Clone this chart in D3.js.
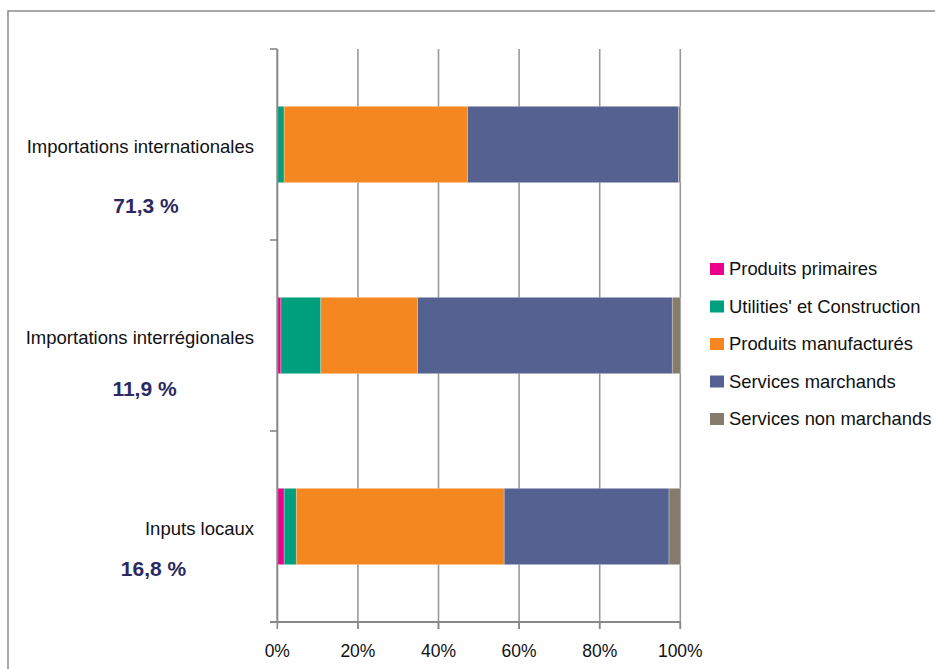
<!DOCTYPE html>
<html>
<head>
  <meta charset="utf-8">
  <title>Structure des inputs</title>
  <style>
  body { margin: 0; background: #fff; }
  svg { font-family: "Liberation Sans", Arial, sans-serif; }
  .grid line { stroke: #999; stroke-width: 1.6px; }
  .cat { font-size: 18.5px; fill: #111; text-anchor: end; }
  .pct { font-size: 21px; font-weight: bold; fill: #2b2962; text-anchor: middle; }
  .legend text { font-size: 18.4px; fill: #111; }
  .tick-label { font-size: 17.5px; fill: #111; text-anchor: middle; }
  </style>
</head>
<body>
  <svg width="935" height="669"></svg>
  <script src="https://d3js.org/d3.v7.min.js"></script>
  <script>
  // données
  var categories = ["Importations internationales", "Importations interrégionales", "Inputs locaux"];
  var shares = ["71,3 %", "11,9 %", "16,8 %"];
  var products = ["Produits primaires", "Utilities' et Construction", "Produits manufacturés",
                  "Services marchands", "Services non marchands"];
  var colors = ["#ec008c", "#00a07e", "#f58720", "#556291", "#857c6d"];
  var intl = [0, 1.7, 45.5, 52.4, 0.4];
  var interreg = [0.9, 9.9, 24.0, 63.2, 2.0];
  var locaux = [1.7, 3.0, 51.6, 40.9, 2.8];
  var xTicks = [0, 20, 40, 60, 80, 100];

  var series = [intl, interreg, locaux];
  var rows = categories.map(function(c, i) {
    var r = { cat: c };
    products.forEach(function(p, j) { r[p] = series[i][j]; });
    return r;
  });

  var svg = d3.select("svg");

  // cadre
  svg.append("rect")
    .attr("x", 8).attr("y", 11).attr("width", 1000).attr("height", 1000)
    .attr("fill", "none").attr("stroke", "#8c8c8c").attr("stroke-width", 1.5);

  var x = d3.scaleLinear().domain([0, 100]).range([277.3, 680.3]);
  var y = d3.scaleBand().domain(categories).range([49, 622])
    .paddingInner(0.6).paddingOuter(0.3);

  // grille verticale
  svg.append("g").attr("class", "grid")
    .selectAll("line").data(xTicks.slice(1)).enter().append("line")
    .attr("x1", function(d) { return x(d); }).attr("x2", function(d) { return x(d); })
    .attr("y1", 49).attr("y2", 629);

  // axe horizontal
  svg.append("line").attr("x1", 270).attr("x2", x(100)).attr("y1", 622).attr("y2", 622)
    .attr("stroke", "#888").attr("stroke-width", 2);
  svg.append("g").selectAll("line").data(xTicks).enter().append("line")
    .attr("x1", function(d) { return x(d); }).attr("x2", function(d) { return x(d); })
    .attr("y1", 622).attr("y2", 629).attr("stroke", "#888").attr("stroke-width", 1.6);
  svg.append("g").selectAll("text").data(xTicks).enter().append("text")
    .attr("class", "tick-label")
    .attr("x", function(d) { return x(d); }).attr("y", 657)
    .text(function(d) { return d + "%"; });

  // barres empilées
  var stack = d3.stack().keys(products)(rows);
  svg.append("g").selectAll("g").data(stack).enter().append("g")
    .attr("fill", function(d, i) { return colors[i]; })
    .selectAll("rect").data(function(d) { return d; }).enter().append("rect")
    .attr("x", function(d) { return x(d[0]); })
    .attr("width", function(d) { return x(d[1]) - x(d[0]); })
    .attr("y", function(d) { return y(d.data.cat); })
    .attr("height", y.bandwidth())
    .attr("stroke", "rgba(255,255,255,0.45)").attr("stroke-width", 0.6);

  // axe vertical
  svg.append("line").attr("x1", x(0)).attr("x2", x(0)).attr("y1", 49).attr("y2", 622)
    .attr("stroke", "#888").attr("stroke-width", 2);
  var catEdges = [49].concat(categories.map(function(c) { return y(c) - y.step() * 0.3 + y.step(); }));
  svg.append("g").selectAll("line").data(catEdges).enter().append("line")
    .attr("x1", 270).attr("x2", x(0))
    .attr("y1", function(d) { return d; }).attr("y2", function(d) { return d; })
    .attr("stroke", "#888").attr("stroke-width", 1.6);

  // libellés de catégories
  svg.append("g").selectAll("text").data(categories).enter().append("text")
    .attr("class", "cat")
    .attr("x", 254)
    .attr("y", function(d) { return y(d) + y.bandwidth() / 2 + 8; })
    .text(function(d) { return d; });

  // parts (zones de texte placées à la main dans l'original)
  var pctPos = [[146, 68], [144.5, 60], [153.5, 49]];
  svg.append("g").selectAll("text").data(shares).enter().append("text")
    .attr("class", "pct")
    .attr("x", function(d, i) { return pctPos[i][0]; })
    .attr("y", function(d, i) { return y(categories[i]) + y.bandwidth() / 2 + pctPos[i][1]; })
    .text(function(d) { return d; });

  // légende
  var legend = svg.append("g").attr("class", "legend")
    .selectAll("g").data(products).enter().append("g")
    .attr("transform", function(d, i) { return "translate(710," + (275 + i * 37.5) + ")"; });
  legend.append("rect")
    .attr("x", 0).attr("y", -12).attr("width", 14).attr("height", 12)
    .attr("fill", function(d, i) { return colors[i]; });
  legend.append("text").attr("x", 19).attr("y", 0).text(function(d) { return d; });
  </script>
</body>
</html>
